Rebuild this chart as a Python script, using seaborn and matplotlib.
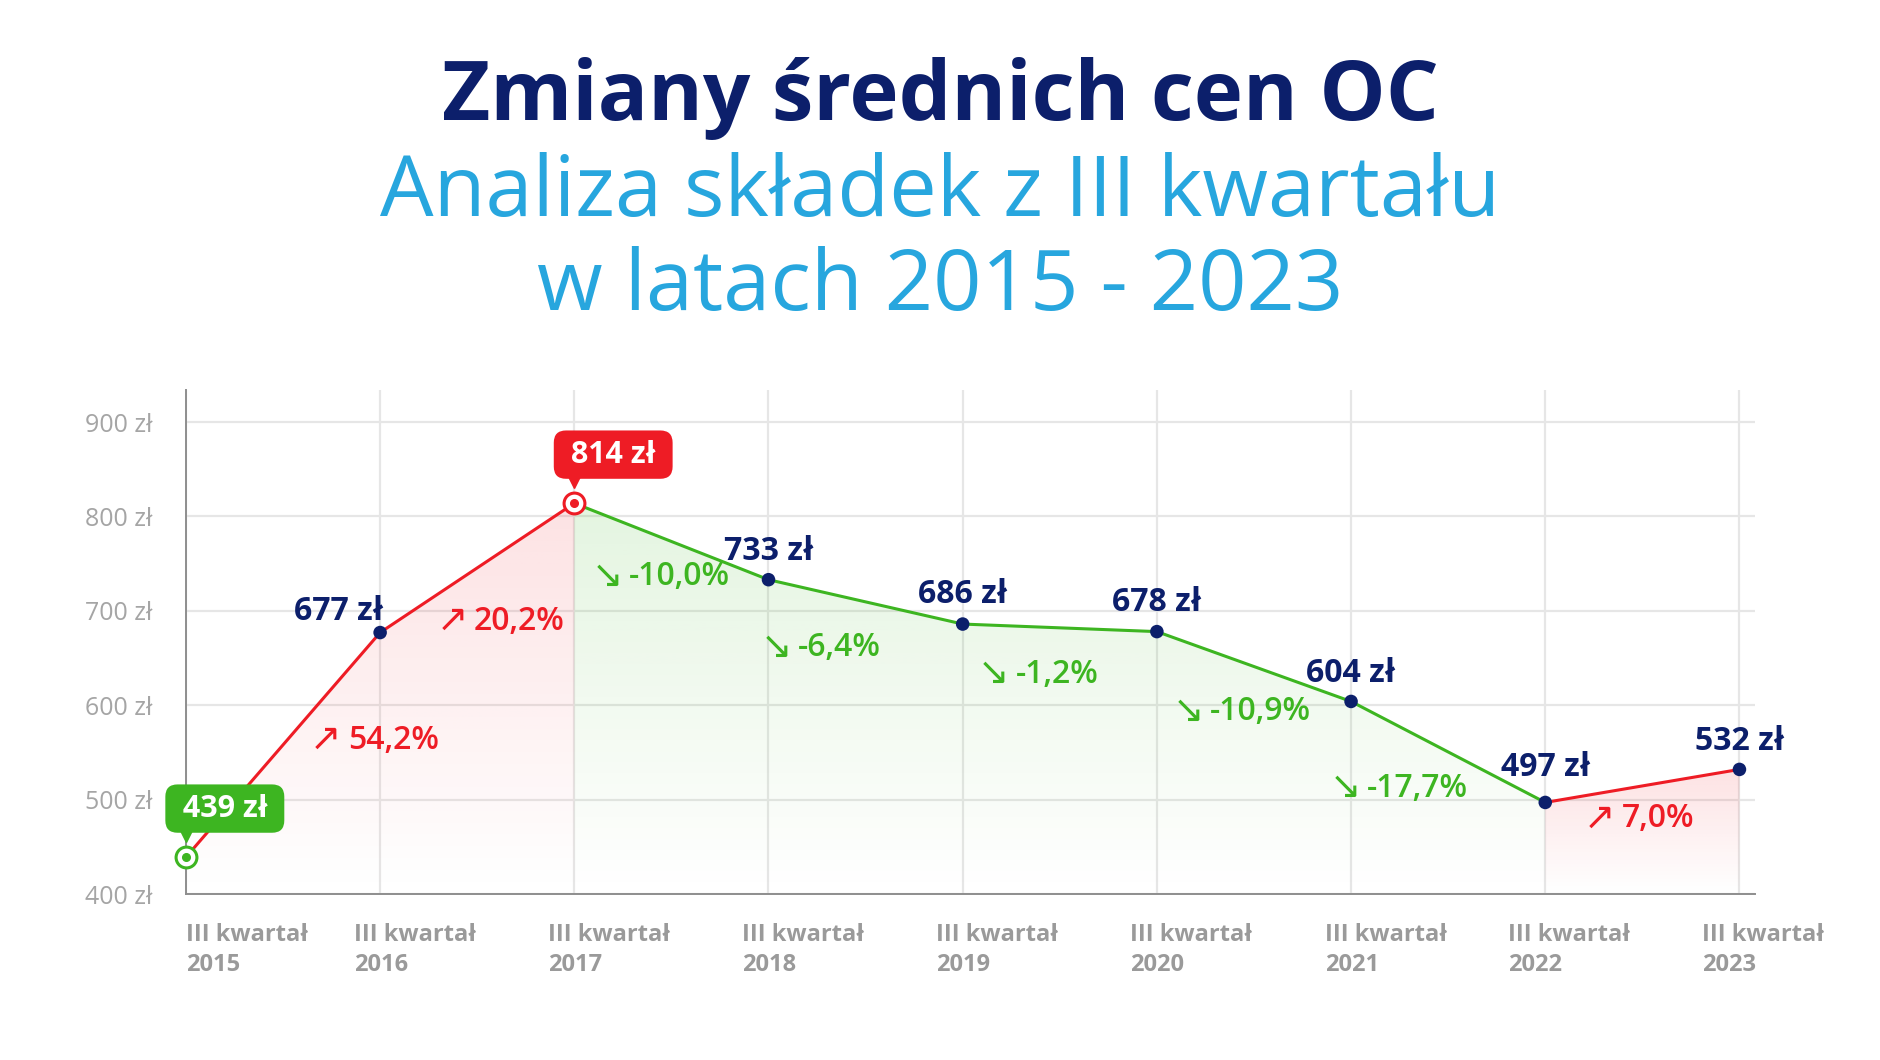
import numpy as np
import pandas as pd
import matplotlib
matplotlib.use("Agg")
import matplotlib.pyplot as plt
import matplotlib.colors as mcolors
from matplotlib.transforms import ScaledTranslation, offset_copy
import seaborn as sns

# data
years = ["2015", "2016", "2017", "2018", "2019", "2020", "2021", "2022", "2023"]
prices = [439, 677, 814, 733, 686, 678, 604, 497, 532]
y_ticks = [400, 500, 600, 700, 800, 900]
tick_labels = [f"III kwartał\n{y}" for y in years]

# layout of the annotations (data coords / points), not data
pct_pos = [(0.64, 563), (1.29, 689), (2.09, 736), (2.96, 661),
           (4.08, 633), (5.08, 593), (5.89, 512), (7.20, 480)]
val_offsets = [None, (0, 9), None, (0, 14), (0, 15), (0, 15), (0, 14), (0, 19), (0, 14)]

NAVY = "#0c1f6b"
BLUE = "#27a6de"
RED = "#ee1c25"
GREEN = "#3db521"
TXT_GRAY = "#a5a5a5"
XT_GRAY = "#9a9a9a"
GRID = "#e6e6e6"
SPINE = "#8e8e8e"

sns.set_style("white")
plt.rcParams["font.family"] = ["Open Sans", "DejaVu Sans"]

df = pd.DataFrame({"x": np.arange(len(prices)), "price": prices})

fig = plt.figure(figsize=(18.8, 10.6), dpi=100)
ax = fig.add_axes([0.0989, 0.1566, 0.9335 - 0.0989, 0.6321 - 0.1566])

YMIN, YMAX = 400, 934


def gradient_fill(sub, color, top_alpha):
    xs = sub["x"].to_numpy(dtype=float)
    ys = sub["price"].to_numpy(dtype=float)
    poly = ax.fill_between(xs, ys, YMIN, color="none", lw=0)
    path = poly.get_paths()[0]
    grad = np.zeros((256, 1, 4))
    grad[..., :3] = mcolors.to_rgb(color)
    grad[..., 3] = np.linspace(top_alpha, 0.0, 256)[:, None]
    im = ax.imshow(grad, aspect="auto", origin="upper", zorder=1,
                   extent=[xs.min(), xs.max(), YMIN, ys.max()])
    im.set_clip_path(path, transform=ax.transData)


# split line into rising / falling runs
diffs = np.diff(prices)
runs = []
start = 0
for i in range(1, len(diffs)):
    if np.sign(diffs[i]) != np.sign(diffs[start]):
        runs.append((start, i))
        start = i
runs.append((start, len(diffs)))

for a, b in runs:
    sub = df.iloc[a:b + 1]
    c = RED if prices[b] > prices[a] else GREEN
    gradient_fill(sub, c, 0.13 if c == RED else 0.14)
    sns.lineplot(data=sub, x="x", y="price", color=c, lw=2.2, ax=ax, zorder=3)

i_min = int(np.argmin(prices))
i_max = int(np.argmax(prices))
mid = df[~df["x"].isin([i_min, i_max])]
sns.scatterplot(data=mid, x="x", y="price", color=NAVY, s=95, ax=ax,
                zorder=4, edgecolor="none")

# badge points
for idx, c in [(i_min, GREEN), (i_max, RED)]:
    v = prices[idx]
    ax.plot([idx], [v], marker="o", ms=15, mfc="white", mec=c, mew=2.2,
            zorder=5, clip_on=False)
    ax.plot([idx], [v], marker="o", ms=5.5, color=c, zorder=6, clip_on=False)
    ax.plot([idx], [v], marker="v", ms=9, color=c, zorder=6, clip_on=False,
            transform=offset_copy(ax.transData, fig, x=0, y=15, units="points"))
    ax.annotate(f"\u00a0{v} zł\u00a0", xy=(idx, v), xytext=(28, 35),
                textcoords="offset points", ha="center", va="center",
                color="white", fontsize=22, fontweight="bold", zorder=7,
                bbox=dict(boxstyle="round,pad=0.3,rounding_size=0.4",
                          fc=c, ec="none"))

# value labels
for i, v in enumerate(prices):
    if val_offsets[i] is None:
        continue
    ha = "right" if i == 1 else "center"
    xo = 2 if i == 1 else 0
    ax.annotate(f"{v} zł", xy=(i, v), xytext=(val_offsets[i][0] + xo, val_offsets[i][1]),
                textcoords="offset points", ha=ha, va="baseline",
                color=NAVY, fontsize=23, fontweight="bold", zorder=6)

# percent change labels
for k in range(len(diffs)):
    pct = diffs[k] / prices[k] * 100
    up = pct > 0
    col = RED if up else GREEN
    ax.text(pct_pos[k][0], pct_pos[k][1], "↗" if up else "↘", ha="left",
            va="center", color=col, fontsize=27,
            family="DejaVu Sans", zorder=6)
    ax.annotate(f"{pct:.1f}%".replace(".", ","), xy=pct_pos[k], xytext=(27, 0),
                textcoords="offset points", ha="left", va="center",
                color=col, fontsize=23, fontweight="semibold", zorder=6)

ax.set_xlim(0, 8.08)
ax.set_ylim(YMIN, YMAX)
ax.set_xticks(range(len(years)))
ax.set_xticklabels(tick_labels)
ax.set_yticks(y_ticks)
ax.set_yticklabels([f"{t} zł" for t in y_ticks])
ax.set_xlabel("")
ax.set_ylabel("")

ax.set_axisbelow(True)
ax.grid(True, color=GRID, lw=1.6)
ax.tick_params(axis="x", length=17, width=1.6, color=GRID, pad=4,
               labelsize=17, labelcolor=XT_GRAY)
ax.tick_params(axis="y", length=0, pad=24, labelsize=18, labelcolor=TXT_GRAY)
for lab in ax.get_xticklabels():
    lab.set_fontweight("bold")
    lab.set_ha("left")
    lab.set_multialignment("left")
    lab.set_linespacing(1.3)
for i, lab in enumerate(ax.get_xticklabels()):
    if i > 0:
        shift = -19 if i < 7 else -27
        lab.set_transform(lab.get_transform() +
                          ScaledTranslation(shift / 72, 0, fig.dpi_scale_trans))

for side in ["top", "right"]:
    ax.spines[side].set_visible(False)
for side in ["left", "bottom"]:
    ax.spines[side].set_color(SPINE)
    ax.spines[side].set_linewidth(1.4)
    ax.spines[side].set_zorder(4)

fig.text(0.5, 1 - 120 / 1060, "Zmiany średnich cen OC", ha="center",
         va="baseline", fontsize=60, fontweight="bold", color=NAVY)
fig.text(0.5, 1 - 216 / 1060, "Analiza składek z III kwartału", ha="center",
         va="baseline", fontsize=61, color=BLUE)
fig.text(0.5, 1 - 310 / 1060, "w latach 2015 - 2023", ha="center",
         va="baseline", fontsize=61, color=BLUE)

fig.savefig("out.png", dpi=100, facecolor="white")
